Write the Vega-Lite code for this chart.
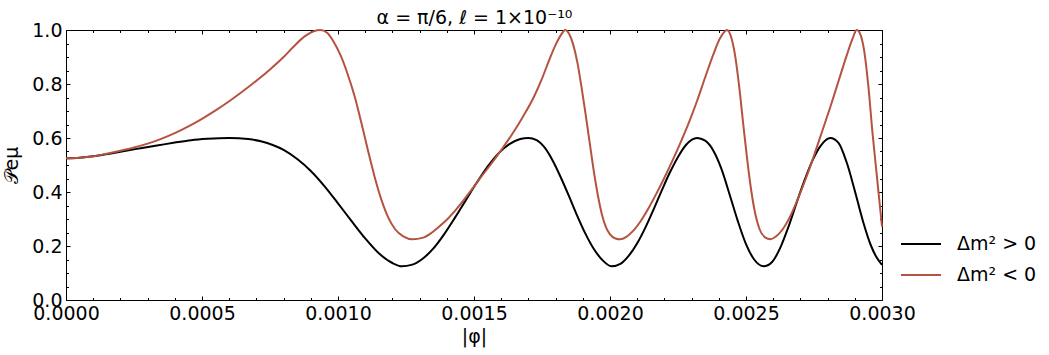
{
  "$schema": "https://vega.github.io/schema/vega-lite/v6.json",
  "width": 816,
  "height": 270,
  "autosize": {"type": "none"},
  "padding": {"left": 66, "top": 30, "right": 167, "bottom": 55},
  "config": {
    "view": {"stroke": null},
    "font": "DejaVu Sans",
    "axis": {"labelFont": "DejaVu Sans", "titleFont": "DejaVu Sans", "labelFontSize": 19, "titleFontSize": 19, "titleFontWeight": "normal", "labelColor": "black", "titleColor": "black", "tickColor": "black", "domainColor": "black", "domainWidth": 1, "grid": false}
  },
  "data": {"values": [
    {"x": 0, "p": 0.525, "s": "Δm² > 0"},
    {"x": 0.00005, "p": 0.527, "s": "Δm² > 0"},
    {"x": 0.0001, "p": 0.532, "s": "Δm² > 0"},
    {"x": 0.00016, "p": 0.542, "s": "Δm² > 0"},
    {"x": 0.00022, "p": 0.553, "s": "Δm² > 0"},
    {"x": 0.00028, "p": 0.563, "s": "Δm² > 0"},
    {"x": 0.00034, "p": 0.573, "s": "Δm² > 0"},
    {"x": 0.0004, "p": 0.583, "s": "Δm² > 0"},
    {"x": 0.00046, "p": 0.592, "s": "Δm² > 0"},
    {"x": 0.00052, "p": 0.597, "s": "Δm² > 0"},
    {"x": 0.0006, "p": 0.6, "s": "Δm² > 0"},
    {"x": 0.00067, "p": 0.596, "s": "Δm² > 0"},
    {"x": 0.00072, "p": 0.587, "s": "Δm² > 0"},
    {"x": 0.00076, "p": 0.574, "s": "Δm² > 0"},
    {"x": 0.0008, "p": 0.556, "s": "Δm² > 0"},
    {"x": 0.00085, "p": 0.522, "s": "Δm² > 0"},
    {"x": 0.0009, "p": 0.478, "s": "Δm² > 0"},
    {"x": 0.00095, "p": 0.422, "s": "Δm² > 0"},
    {"x": 0.001, "p": 0.358, "s": "Δm² > 0"},
    {"x": 0.00105, "p": 0.292, "s": "Δm² > 0"},
    {"x": 0.0011, "p": 0.228, "s": "Δm² > 0"},
    {"x": 0.00115, "p": 0.173, "s": "Δm² > 0"},
    {"x": 0.0012, "p": 0.137, "s": "Δm² > 0"},
    {"x": 0.001235, "p": 0.125, "s": "Δm² > 0"},
    {"x": 0.00127, "p": 0.13, "s": "Δm² > 0"},
    {"x": 0.00131, "p": 0.152, "s": "Δm² > 0"},
    {"x": 0.00135, "p": 0.19, "s": "Δm² > 0"},
    {"x": 0.00139, "p": 0.243, "s": "Δm² > 0"},
    {"x": 0.00143, "p": 0.305, "s": "Δm² > 0"},
    {"x": 0.00147, "p": 0.37, "s": "Δm² > 0"},
    {"x": 0.00151, "p": 0.434, "s": "Δm² > 0"},
    {"x": 0.00155, "p": 0.494, "s": "Δm² > 0"},
    {"x": 0.00159, "p": 0.543, "s": "Δm² > 0"},
    {"x": 0.00163, "p": 0.577, "s": "Δm² > 0"},
    {"x": 0.00167, "p": 0.596, "s": "Δm² > 0"},
    {"x": 0.0017, "p": 0.6, "s": "Δm² > 0"},
    {"x": 0.00173, "p": 0.592, "s": "Δm² > 0"},
    {"x": 0.00176, "p": 0.564, "s": "Δm² > 0"},
    {"x": 0.00179, "p": 0.515, "s": "Δm² > 0"},
    {"x": 0.00182, "p": 0.452, "s": "Δm² > 0"},
    {"x": 0.00185, "p": 0.383, "s": "Δm² > 0"},
    {"x": 0.00188, "p": 0.311, "s": "Δm² > 0"},
    {"x": 0.00191, "p": 0.245, "s": "Δm² > 0"},
    {"x": 0.00194, "p": 0.19, "s": "Δm² > 0"},
    {"x": 0.00197, "p": 0.15, "s": "Δm² > 0"},
    {"x": 0.002005, "p": 0.125, "s": "Δm² > 0"},
    {"x": 0.00204, "p": 0.135, "s": "Δm² > 0"},
    {"x": 0.00207, "p": 0.165, "s": "Δm² > 0"},
    {"x": 0.0021, "p": 0.21, "s": "Δm² > 0"},
    {"x": 0.00213, "p": 0.268, "s": "Δm² > 0"},
    {"x": 0.00216, "p": 0.335, "s": "Δm² > 0"},
    {"x": 0.00219, "p": 0.405, "s": "Δm² > 0"},
    {"x": 0.00222, "p": 0.472, "s": "Δm² > 0"},
    {"x": 0.00225, "p": 0.53, "s": "Δm² > 0"},
    {"x": 0.00228, "p": 0.575, "s": "Δm² > 0"},
    {"x": 0.00232, "p": 0.6, "s": "Δm² > 0"},
    {"x": 0.00235, "p": 0.59, "s": "Δm² > 0"},
    {"x": 0.00238, "p": 0.553, "s": "Δm² > 0"},
    {"x": 0.00241, "p": 0.485, "s": "Δm² > 0"},
    {"x": 0.00244, "p": 0.39, "s": "Δm² > 0"},
    {"x": 0.00247, "p": 0.292, "s": "Δm² > 0"},
    {"x": 0.0025, "p": 0.207, "s": "Δm² > 0"},
    {"x": 0.00253, "p": 0.15, "s": "Δm² > 0"},
    {"x": 0.002565, "p": 0.125, "s": "Δm² > 0"},
    {"x": 0.002595, "p": 0.14, "s": "Δm² > 0"},
    {"x": 0.002625, "p": 0.191, "s": "Δm² > 0"},
    {"x": 0.002655, "p": 0.268, "s": "Δm² > 0"},
    {"x": 0.002685, "p": 0.357, "s": "Δm² > 0"},
    {"x": 0.002715, "p": 0.443, "s": "Δm² > 0"},
    {"x": 0.002745, "p": 0.518, "s": "Δm² > 0"},
    {"x": 0.002775, "p": 0.572, "s": "Δm² > 0"},
    {"x": 0.00281, "p": 0.6, "s": "Δm² > 0"},
    {"x": 0.00284, "p": 0.582, "s": "Δm² > 0"},
    {"x": 0.00287, "p": 0.51, "s": "Δm² > 0"},
    {"x": 0.0029, "p": 0.405, "s": "Δm² > 0"},
    {"x": 0.00293, "p": 0.292, "s": "Δm² > 0"},
    {"x": 0.00296, "p": 0.2, "s": "Δm² > 0"},
    {"x": 0.00298, "p": 0.158, "s": "Δm² > 0"},
    {"x": 0.003, "p": 0.13, "s": "Δm² > 0"},
    {"x": 0, "p": 0.525, "s": "Δm² < 0"},
    {"x": 0.00005, "p": 0.527, "s": "Δm² < 0"},
    {"x": 0.0001, "p": 0.532, "s": "Δm² < 0"},
    {"x": 0.00015, "p": 0.542, "s": "Δm² < 0"},
    {"x": 0.0002, "p": 0.553, "s": "Δm² < 0"},
    {"x": 0.00025, "p": 0.565, "s": "Δm² < 0"},
    {"x": 0.0003, "p": 0.579, "s": "Δm² < 0"},
    {"x": 0.00035, "p": 0.597, "s": "Δm² < 0"},
    {"x": 0.0004, "p": 0.618, "s": "Δm² < 0"},
    {"x": 0.00045, "p": 0.643, "s": "Δm² < 0"},
    {"x": 0.0005, "p": 0.671, "s": "Δm² < 0"},
    {"x": 0.00055, "p": 0.702, "s": "Δm² < 0"},
    {"x": 0.0006, "p": 0.736, "s": "Δm² < 0"},
    {"x": 0.00065, "p": 0.773, "s": "Δm² < 0"},
    {"x": 0.0007, "p": 0.812, "s": "Δm² < 0"},
    {"x": 0.00075, "p": 0.854, "s": "Δm² < 0"},
    {"x": 0.0008, "p": 0.9, "s": "Δm² < 0"},
    {"x": 0.00084, "p": 0.942, "s": "Δm² < 0"},
    {"x": 0.00088, "p": 0.978, "s": "Δm² < 0"},
    {"x": 0.00091, "p": 0.995, "s": "Δm² < 0"},
    {"x": 0.000935, "p": 1.0, "s": "Δm² < 0"},
    {"x": 0.00096, "p": 0.99, "s": "Δm² < 0"},
    {"x": 0.000985, "p": 0.955, "s": "Δm² < 0"},
    {"x": 0.00101, "p": 0.905, "s": "Δm² < 0"},
    {"x": 0.001035, "p": 0.838, "s": "Δm² < 0"},
    {"x": 0.00106, "p": 0.758, "s": "Δm² < 0"},
    {"x": 0.001085, "p": 0.66, "s": "Δm² < 0"},
    {"x": 0.00111, "p": 0.555, "s": "Δm² < 0"},
    {"x": 0.001135, "p": 0.455, "s": "Δm² < 0"},
    {"x": 0.00116, "p": 0.37, "s": "Δm² < 0"},
    {"x": 0.001185, "p": 0.305, "s": "Δm² < 0"},
    {"x": 0.00121, "p": 0.262, "s": "Δm² < 0"},
    {"x": 0.00124, "p": 0.236, "s": "Δm² < 0"},
    {"x": 0.001275, "p": 0.225, "s": "Δm² < 0"},
    {"x": 0.00131, "p": 0.23, "s": "Δm² < 0"},
    {"x": 0.00134, "p": 0.246, "s": "Δm² < 0"},
    {"x": 0.00137, "p": 0.27, "s": "Δm² < 0"},
    {"x": 0.0014, "p": 0.297, "s": "Δm² < 0"},
    {"x": 0.00143, "p": 0.33, "s": "Δm² < 0"},
    {"x": 0.00146, "p": 0.367, "s": "Δm² < 0"},
    {"x": 0.00149, "p": 0.407, "s": "Δm² < 0"},
    {"x": 0.00152, "p": 0.448, "s": "Δm² < 0"},
    {"x": 0.00156, "p": 0.5, "s": "Δm² < 0"},
    {"x": 0.0016, "p": 0.555, "s": "Δm² < 0"},
    {"x": 0.00164, "p": 0.614, "s": "Δm² < 0"},
    {"x": 0.00168, "p": 0.679, "s": "Δm² < 0"},
    {"x": 0.00172, "p": 0.752, "s": "Δm² < 0"},
    {"x": 0.00175, "p": 0.82, "s": "Δm² < 0"},
    {"x": 0.001775, "p": 0.885, "s": "Δm² < 0"},
    {"x": 0.0018, "p": 0.945, "s": "Δm² < 0"},
    {"x": 0.00182, "p": 0.982, "s": "Δm² < 0"},
    {"x": 0.001835, "p": 1.0, "s": "Δm² < 0"},
    {"x": 0.00185, "p": 0.985, "s": "Δm² < 0"},
    {"x": 0.001865, "p": 0.945, "s": "Δm² < 0"},
    {"x": 0.00188, "p": 0.88, "s": "Δm² < 0"},
    {"x": 0.001895, "p": 0.79, "s": "Δm² < 0"},
    {"x": 0.00191, "p": 0.69, "s": "Δm² < 0"},
    {"x": 0.001925, "p": 0.585, "s": "Δm² < 0"},
    {"x": 0.00194, "p": 0.48, "s": "Δm² < 0"},
    {"x": 0.001955, "p": 0.39, "s": "Δm² < 0"},
    {"x": 0.00197, "p": 0.318, "s": "Δm² < 0"},
    {"x": 0.001985, "p": 0.27, "s": "Δm² < 0"},
    {"x": 0.002, "p": 0.243, "s": "Δm² < 0"},
    {"x": 0.00202, "p": 0.228, "s": "Δm² < 0"},
    {"x": 0.002037, "p": 0.225, "s": "Δm² < 0"},
    {"x": 0.00206, "p": 0.234, "s": "Δm² < 0"},
    {"x": 0.002085, "p": 0.256, "s": "Δm² < 0"},
    {"x": 0.00211, "p": 0.288, "s": "Δm² < 0"},
    {"x": 0.00214, "p": 0.337, "s": "Δm² < 0"},
    {"x": 0.00217, "p": 0.393, "s": "Δm² < 0"},
    {"x": 0.0022, "p": 0.453, "s": "Δm² < 0"},
    {"x": 0.00223, "p": 0.517, "s": "Δm² < 0"},
    {"x": 0.00226, "p": 0.585, "s": "Δm² < 0"},
    {"x": 0.00229, "p": 0.657, "s": "Δm² < 0"},
    {"x": 0.00232, "p": 0.737, "s": "Δm² < 0"},
    {"x": 0.00235, "p": 0.825, "s": "Δm² < 0"},
    {"x": 0.00238, "p": 0.91, "s": "Δm² < 0"},
    {"x": 0.002405, "p": 0.97, "s": "Δm² < 0"},
    {"x": 0.00243, "p": 1.0, "s": "Δm² < 0"},
    {"x": 0.002445, "p": 0.975, "s": "Δm² < 0"},
    {"x": 0.00246, "p": 0.905, "s": "Δm² < 0"},
    {"x": 0.002475, "p": 0.79, "s": "Δm² < 0"},
    {"x": 0.00249, "p": 0.65, "s": "Δm² < 0"},
    {"x": 0.002505, "p": 0.515, "s": "Δm² < 0"},
    {"x": 0.00252, "p": 0.4, "s": "Δm² < 0"},
    {"x": 0.002535, "p": 0.315, "s": "Δm² < 0"},
    {"x": 0.00255, "p": 0.262, "s": "Δm² < 0"},
    {"x": 0.00257, "p": 0.232, "s": "Δm² < 0"},
    {"x": 0.00259, "p": 0.225, "s": "Δm² < 0"},
    {"x": 0.00261, "p": 0.235, "s": "Δm² < 0"},
    {"x": 0.002635, "p": 0.262, "s": "Δm² < 0"},
    {"x": 0.00266, "p": 0.305, "s": "Δm² < 0"},
    {"x": 0.00269, "p": 0.373, "s": "Δm² < 0"},
    {"x": 0.00272, "p": 0.45, "s": "Δm² < 0"},
    {"x": 0.00275, "p": 0.535, "s": "Δm² < 0"},
    {"x": 0.00278, "p": 0.625, "s": "Δm² < 0"},
    {"x": 0.00281, "p": 0.715, "s": "Δm² < 0"},
    {"x": 0.00284, "p": 0.81, "s": "Δm² < 0"},
    {"x": 0.00287, "p": 0.905, "s": "Δm² < 0"},
    {"x": 0.00289, "p": 0.963, "s": "Δm² < 0"},
    {"x": 0.002907, "p": 1.0, "s": "Δm² < 0"},
    {"x": 0.00292, "p": 0.985, "s": "Δm² < 0"},
    {"x": 0.002935, "p": 0.92, "s": "Δm² < 0"},
    {"x": 0.00295, "p": 0.79, "s": "Δm² < 0"},
    {"x": 0.002965, "p": 0.62, "s": "Δm² < 0"},
    {"x": 0.00298, "p": 0.47, "s": "Δm² < 0"},
    {"x": 0.003, "p": 0.272, "s": "Δm² < 0"}
  ]},
  "layer": [
    {
      "mark": {"type": "line", "strokeWidth": 2, "interpolate": "monotone"},
      "encoding": {
        "x": {"field": "x", "type": "quantitative", "scale": {"domain": [0, 0.003], "nice": false, "zero": false},
          "axis": {"orient": "bottom", "values": [0, 0.0005, 0.001, 0.0015, 0.002, 0.0025, 0.003], "format": ".4f", "tickSize": -4, "labelPadding": 8, "labelFlush": false, "labelOverlap": false, "title": "|φ|", "titlePadding": 4}},
        "y": {"field": "p", "type": "quantitative", "scale": {"domain": [0, 1], "nice": false, "zero": false},
          "axis": {"orient": "left", "values": [0, 0.2, 0.4, 0.6, 0.8, 1.0], "format": ".1f", "tickSize": -4, "labelPadding": 8, "labelFlush": false, "labelOverlap": false, "title": "𝒫eμ", "titlePadding": 10}},
        "color": {"field": "s", "type": "nominal", "scale": {"domain": ["Δm² > 0", "Δm² < 0"], "range": ["#000000", "#b4533f"]},
          "legend": {"orient": "none", "legendX": 834, "legendY": 193, "title": null, "symbolType": "stroke", "symbolSize": 1600, "symbolStrokeWidth": 2, "labelFontSize": 19, "labelFont": "DejaVu Sans", "labelColor": "black", "labelOffset": 15, "rowPadding": -13, "padding": 0, "labelLimit": 250}}
      }
    },
    {
      "mark": {"type": "point", "opacity": 0},
      "encoding": {
        "x": {"field": "x", "type": "quantitative", "axis": {"orient": "bottom", "values": [0.0001, 0.0002, 0.0003, 0.0004, 0.0006, 0.0007, 0.0008, 0.0009, 0.0011, 0.0012, 0.0013, 0.0014, 0.0016, 0.0017, 0.0018, 0.0019, 0.0021, 0.0022, 0.0023, 0.0024, 0.0026, 0.0027, 0.0028, 0.0029], "labels": false, "domain": false, "tickSize": -2.5, "title": null}},
        "y": {"field": "p", "type": "quantitative", "axis": {"orient": "left", "values": [0.05, 0.1, 0.15, 0.25, 0.3, 0.35, 0.45, 0.5, 0.55, 0.65, 0.7, 0.75, 0.85, 0.9, 0.95], "labels": false, "domain": false, "tickSize": -2.5, "title": null}}
      }
    },
    {
      "mark": {"type": "point", "opacity": 0},
      "encoding": {
        "x": {"field": "x", "type": "quantitative", "axis": {"orient": "top", "values": [0, 0.0005, 0.001, 0.0015, 0.002, 0.0025, 0.003], "labels": false, "domain": true, "tickSize": -4, "title": "α = π/6, ℓ = 1×10⁻¹⁰", "titleFontSize": 19, "titleBaseline": "alphabetic", "titlePadding": 6}},
        "y": {"field": "p", "type": "quantitative", "axis": {"orient": "right", "values": [0, 0.2, 0.4, 0.6, 0.8, 1.0], "labels": false, "domain": true, "tickSize": -4, "title": null}}
      }
    },
    {
      "mark": {"type": "point", "opacity": 0},
      "encoding": {
        "x": {"field": "x", "type": "quantitative", "axis": {"orient": "top", "values": [0.0001, 0.0002, 0.0003, 0.0004, 0.0006, 0.0007, 0.0008, 0.0009, 0.0011, 0.0012, 0.0013, 0.0014, 0.0016, 0.0017, 0.0018, 0.0019, 0.0021, 0.0022, 0.0023, 0.0024, 0.0026, 0.0027, 0.0028, 0.0029], "labels": false, "domain": false, "tickSize": -2.5, "title": null}},
        "y": {"field": "p", "type": "quantitative", "axis": {"orient": "right", "values": [0.05, 0.1, 0.15, 0.25, 0.3, 0.35, 0.45, 0.5, 0.55, 0.65, 0.7, 0.75, 0.85, 0.9, 0.95], "labels": false, "domain": false, "tickSize": -2.5, "title": null}}
      }
    }
  ],
  "resolve": {"axis": {"x": "independent", "y": "independent"}}
}
